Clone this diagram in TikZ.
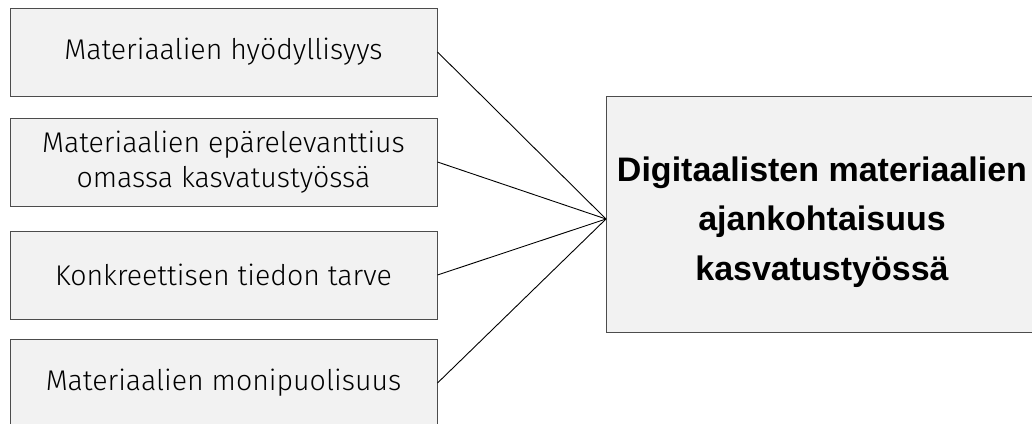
\documentclass[tikz,border=0pt]{standalone}
\usepackage{fontspec}
\setmainfont{Liberation Sans}
\newfontfamily\lightfont{Fira Sans Light}
\begin{document}
\begin{tikzpicture}[x=1pt,y=-1pt,
  panel/.style={draw=black!70, fill=black!5, line width=1pt, inner sep=0pt},
  factor/.style={panel, minimum width=427pt, minimum height=88pt,
    align=center, font=\lightfont\fontsize{28.5}{35}\selectfont},
  outcome/.style={panel, minimum width=428pt, minimum height=236pt},
  title/.style={align=center, inner sep=0pt,
    font=\bfseries\fontsize{34}{49.5}\selectfont},
  link/.style={draw=black, line width=0.9pt}]
  \useasboundingbox (0,0) rectangle (1032,423);
  \clip (0,0) rectangle (1032,423);
  \node[factor] (f1) at (223.5,52) {Materiaalien hyödyllisyys};
  \node[factor] (f2) at (223.5,162) {Materiaalien epärelevanttius\\omassa kasvatustyössä};
  \node[factor] (f3) at (223.5,275) {Konkreettisen tiedon tarve};
  \node[factor] (f4) at (223.5,383) {Materiaalien monipuolisuus};
  \node[outcome] (goal) at (820,214) {};
  \node[title] (goaltext) at (822,222) {Digitaalisten materiaalien\\ajankohtaisuus\\kasvatustyössä};
  \coordinate (hub) at (606,219);
  \foreach \f in {f1,f2,f3,f4}
    \draw[link] (\f.east) -- (hub);
\end{tikzpicture}
\end{document}
